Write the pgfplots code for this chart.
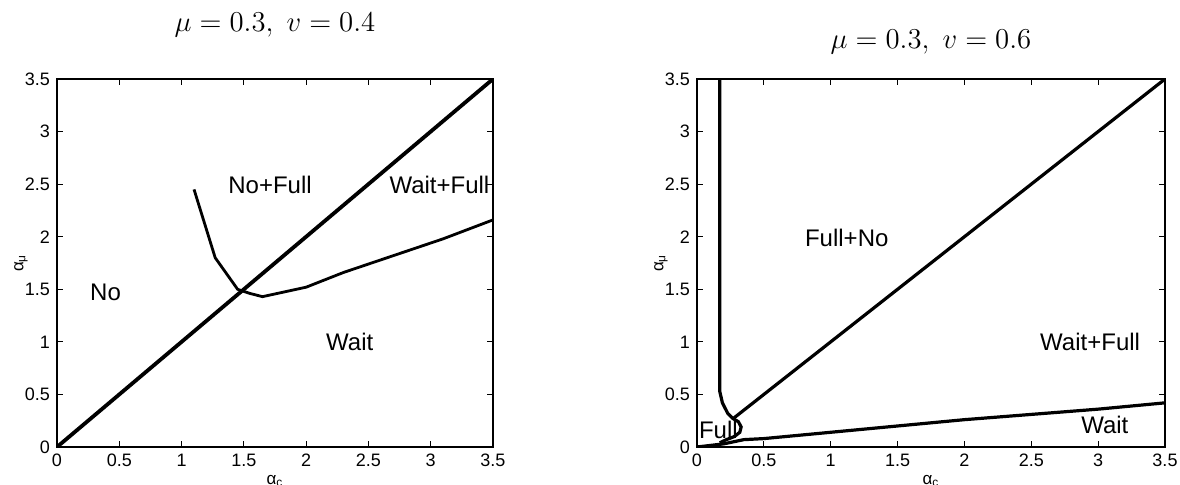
\documentclass[border=0pt]{standalone}
\usepackage{fontspec}
\setmainfont{Liberation Sans}
\usepackage{pgfplots}
\pgfplotsset{compat=1.18}
\tikzset{reg/.style={font=\fontsize{12}{14}\selectfont, anchor=center}}
\pgfplotsset{
 mystyle/.style={scale only axis, height=184pt, xmin=0,xmax=3.5,ymin=0,ymax=3.5,
  xtick={0,0.5,1,1.5,2,2.5,3,3.5}, ytick={0,0.5,1,1.5,2,2.5,3,3.5},
  tick align=inside, major tick length=3pt,
  ticklabel style={font=\fontsize{9}{10}\selectfont},
  /pgf/number format/assume math mode=true,
  axis line style={line width=0.6pt},
  every tick/.style={black, line width=0.5pt},
  xlabel={α\textsubscript{c}}, ylabel={α\textsubscript{μ}},
  label style={font=\fontsize{8.5}{9}\selectfont},
  xlabel style={at={([yshift=-17pt]rel axis cs:0.5,0)}, anchor=center},
  ylabel style={at={([xshift=-18pt]rel axis cs:0,0.5)}, anchor=center},
  title style={at={(0.5,1)}, anchor=center, font=\fontsize{15}{17}\selectfont},
  cycle list={black\\},
  every axis plot/.append style={line width=1.6pt, no markers},
 },
}
\pgfplotstableread{
x y
0 0
3.5 3.5
}\diagA
\pgfplotstableread{
x y
1.10 2.45
1.27 1.80
1.45 1.50
1.55 1.46
1.65 1.43
2.00 1.52
2.30 1.66
2.75 1.84
3.10 1.98
3.50 2.16
}\curveA
\pgfplotstableread{
x y
0.17 3.5
0.17 0.53
0.19 0.42
0.23 0.32
0.27 0.27
0.31 0.24
0.33 0.19
0.32 0.14
0.28 0.10
0.22 0.07
0.17 0.04
}\loopB
\pgfplotstableread{
x y
0.27 0.27
3.5 3.5
}\diagB
\pgfplotstableread{
x y
0 0
0.2 0.03
0.35 0.07
0.5 0.08
1.0 0.14
1.5 0.20
2.0 0.26
2.5 0.31
3.0 0.36
3.5 0.42
}\lowB
\begin{document}
\begin{tikzpicture}
\path[use as bounding box] (0pt,0pt) rectangle (590pt,242pt);
\begin{axis}[mystyle, width=218pt, at={(28.5pt,18.5pt)}, anchor=south west,
  title={$\mu=0.3,\ v=0.4$}, title style={yshift=21pt}]
\addplot[line width=1.9pt] table {\diagA};
\addplot[line width=1.4pt] table {\curveA};
\node[reg] at (axis cs:0.39,1.47) {No};
\node[reg] at (axis cs:1.71,2.49) {No+Full};
\node[reg] at (axis cs:3.07,2.49) {Wait+Full};
\node[reg] at (axis cs:2.35,1.0) {Wait};
\end{axis}
\begin{axis}[mystyle, width=234pt, at={(348.5pt,18.5pt)}, anchor=south west,
  title={$\mu=0.3,\ v=0.6$}, title style={yshift=12.5pt}]
\addplot table {\loopB};
\addplot table {\diagB};
\addplot table {\lowB};
\node[reg] at (axis cs:1.12,1.99) {Full+No};
\node[reg] at (axis cs:2.94,1.0) {Wait+Full};
\node[reg] at (axis cs:3.05,0.21) {Wait};
\node[reg] at (axis cs:0.16,0.16) {Full};
\end{axis}
\end{tikzpicture}
\end{document}
